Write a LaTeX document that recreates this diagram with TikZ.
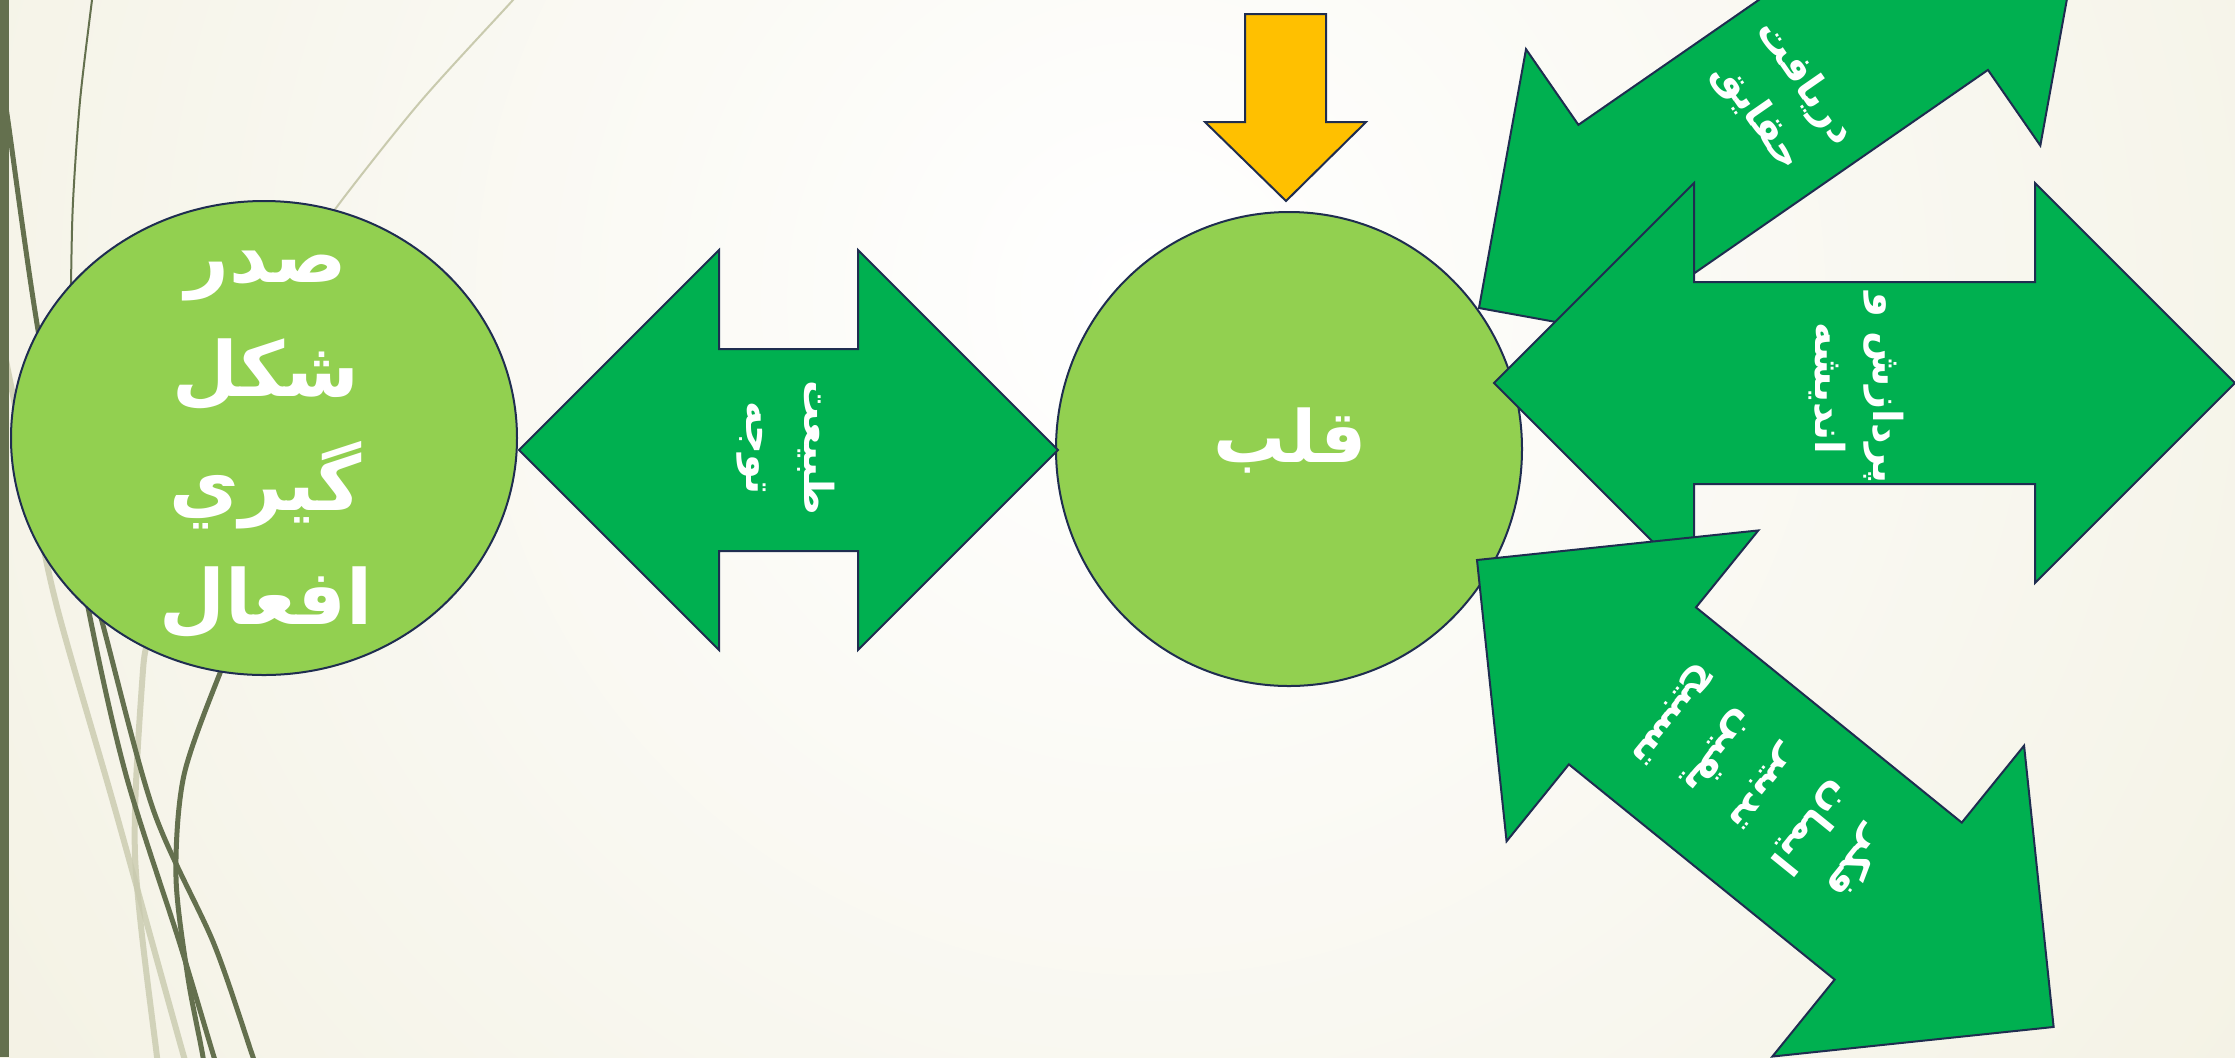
\documentclass[tikz,border=0pt]{standalone}
\usepackage{fontspec}
\usetikzlibrary{shapes.geometric}
\newfontfamily\arabicfont[Script=Arabic]{DejaVu Sans}
\TeXXeTstate=1

\definecolor{cream}{HTML}{E9E5CB}
\definecolor{olive}{HTML}{64704E}
\definecolor{paleolive}{HTML}{C9CAAE}
\definecolor{navy}{HTML}{1F2D50}
\definecolor{leaf}{HTML}{92D050}
\definecolor{grass}{HTML}{00B050}
\definecolor{amber}{HTML}{FFC000}

\tikzset{
	blob/.style={ellipse, draw=navy, line width=1pt, fill=leaf, inner sep=0pt},
	arrowbody/.style={draw=navy, line width=1pt, fill=grass},
	bigtext/.style={text=white, align=center, font=\arabicfont\bfseries\fontsize{38}{57}\selectfont},
	arrowtext/.style={text=white, align=center, font=\arabicfont\bfseries\fontsize{20}{29}\selectfont},
	wisp/.style={draw=olive, line width=2.5pt},
	thinwisp/.style={draw=olive, line width=1pt},
	palewisp/.style={draw=paleolive, line width=3pt, opacity=.8},
}

\begin{document}
\begin{tikzpicture}[x=.5pt, y=-.5pt]
	\useasboundingbox (0,0) rectangle (2235,1057);
	% background
	\fill[cream] (0,0) rectangle (2235,1057);
	\begin{scope}
		\clip (0,0) rectangle (2235,1057);
		\shade[inner color=white, outer color=cream] (1150,300) circle (2700);
		\draw[palewisp] plot[smooth] coordinates {(0,330) (30,480) (57,607) (115,809) (184,1057) (195,1090)};
		\draw[palewisp] plot[smooth] coordinates {(150,640) (143,670) (135,855) (157,1057) (162,1090)};
		\draw[paleolive, line width=1pt] plot[smooth] coordinates {(300,260) (342,200) (421,101) (513,0) (530,-20)};
		\draw[thinwisp] plot[smooth] coordinates {(95,-20) (92,0) (80,101) (73,202) (71,283) (70,350)};
		\draw[wisp] plot[smooth] coordinates {(5,100) (8,121) (38,330) (88,607) (126,775) (180,944) (214,1057) (225,1090)};
		\draw[wisp] plot[smooth] coordinates {(60,470) (100,614) (153,809) (214,944) (253,1057) (265,1090)};
		\draw[wisp] plot[smooth] coordinates {(240,630) (222,668) (184,775) (176,877) (188,978) (203,1057) (206,1090)};
	\end{scope}
	\fill[olive] (0,0) rectangle (9,1057);

	\node[blob, minimum width=253pt, minimum height=237pt] (sadr) at (264,438) {};
	\node[blob, minimum width=233pt, minimum height=237pt] (qalb) at (1289,449) {};

	% left double arrow
	\begin{scope}[shift={(519,450)}]
		\draw[arrowbody] (0,0) -- (200,-200) -- (200,-101) -- (339,-101) -- (339,-200) -- (539,0)
			-- (339,200) -- (339,101) -- (200,101) -- (200,200) -- cycle;
	\end{scope}

	% arrow from above
	\draw[arrowbody, fill=amber] (1245,14) -- (1326,14) -- (1326,122) -- (1366,122) -- (1286,201)
		-- (1205,122) -- (1245,122) -- cycle;

	% upper right
	\begin{scope}[shift={(1479,308)}, rotate=34.7]
		\draw[arrowbody] (0,0) -- (186,-186) -- (186,-94) -- (554,-94) -- (554,-186) -- (740,0)
			-- (554,186) -- (554,94) -- (186,94) -- (186,186) -- cycle;
	\end{scope}

	% right
	\begin{scope}[shift={(1494,383)}]
		\draw[arrowbody] (0,0) -- (200,-200) -- (200,-101) -- (541,-101) -- (541,-200) -- (741,0)
			-- (541,200) -- (541,101) -- (200,101) -- (200,200) -- cycle;
	\end{scope}

	% lower right
	\begin{scope}[shift={(1477,560)}, rotate=-39]
		\draw[arrowbody] (0,0) -- (200,-200) -- (200,-101) -- (542,-101) -- (542,-200) -- (742,0)
			-- (542,200) -- (542,101) -- (200,101) -- (200,200) -- cycle;
	\end{scope}

	\node[bigtext] (sadrtxt) at (266,445) {\beginR صدر\endR\\ \beginR شکل\endR\\ \beginR گیري\endR\\ \beginR افعال\endR};
	\node[bigtext, font=\arabicfont\bfseries\fontsize{36}{44}\selectfont] (qalbtxt) at (1290,440) {\beginR قلب\endR};

	\node[arrowtext, rotate=-90] (tabiat) at (786,448) {\beginR طبیعت\endR\\ \beginR توجه\endR};
	\node[arrowtext, rotate=-55.3] (daryaft) at (1781,100) {\beginR دریافت\endR\\ \beginR حقایق\endR};
	\node[arrowtext, rotate=-90] (pardazesh) at (1856,388) {\beginR پردازش و\endR\\ \beginR اندیشه\endR};
	\node[arrowtext, rotate=-129] (fekr) at (1765,790) {\beginR فکر\endR\\ \beginR ایمان\endR\\ \beginR تدبیر\endR\\ \beginR یقین\endR\\ \beginR تسبیح\endR};
\end{tikzpicture}
\end{document}
